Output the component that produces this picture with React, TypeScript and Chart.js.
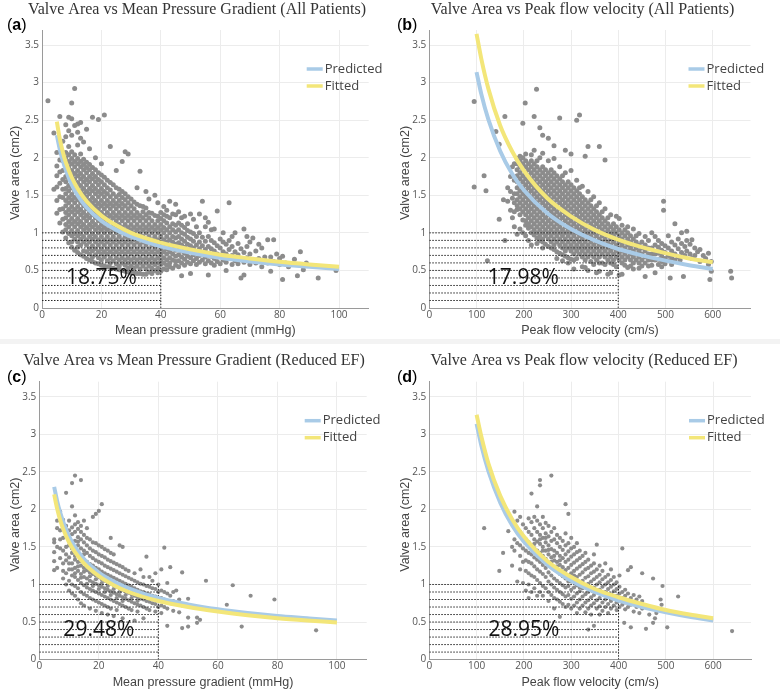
import React, { useEffect, useRef } from "react";
import { Chart, registerables } from "chart.js";
Chart.register(...registerables);
Chart.defaults.font.family = "'Open Sans', sans-serif";

// ---------- axis ticks ----------
const gradTicks = [0, 20, 40, 60, 80, 100];
const velTicks = [0, 100, 200, 300, 400, 500, 600];
const areaTicks = [0, 0.5, 1, 1.5, 2, 2.5, 3, 3.5];

// ---------- curves ----------
const gradCurveX = [5, 6, 7, 8, 10, 12, 15, 20, 25, 30, 40, 50, 60, 70, 80, 90, 100];
const gradPredictedY = [2.3, 2.11, 1.96, 1.84, 1.64, 1.5, 1.34, 1.16, 1.04, 0.95, 0.82, 0.735, 0.67, 0.62, 0.58, 0.55, 0.52];
const gradFittedAllY = [2.48, 2.25, 2.08, 1.94, 1.74, 1.59, 1.42, 1.23, 1.1, 1.0, 0.87, 0.78, 0.71, 0.66, 0.615, 0.58, 0.55];
const gradFittedRedY = [2.2, 2.01, 1.86, 1.74, 1.56, 1.43, 1.28, 1.11, 0.99, 0.9, 0.78, 0.7, 0.64, 0.59, 0.55, 0.52, 0.495];

const velCurveX = [100, 110, 125, 150, 175, 200, 250, 300, 350, 400, 450, 500, 550, 600];
const velPredictedY = [3.14, 2.85, 2.51, 2.09, 1.79, 1.57, 1.26, 1.05, 0.9, 0.785, 0.7, 0.63, 0.57, 0.52];
const velFittedAllY = [3.65, 3.32, 2.92, 2.43, 2.09, 1.83, 1.46, 1.22, 1.04, 0.91, 0.81, 0.73, 0.66, 0.61];
const velFittedRedY = [3.26, 2.97, 2.61, 2.18, 1.87, 1.64, 1.31, 1.1, 0.94, 0.83, 0.74, 0.66, 0.6, 0.55];

// ---------- dotted threshold box ----------
const dottedLevels = [0.1, 0.2, 0.3, 0.4, 0.5, 0.6, 0.7, 0.8, 0.9, 1.0];
const gradCutoff = 40;
const velCutoff = 400;

// ---------- labels ----------
const titles = [
  "Valve Area vs Mean Pressure Gradient (All Patients)",
  "Valve Area vs Peak flow velocity (All Patients)",
  "Valve Area vs Mean Pressure Gradient (Reduced EF)",
  "Valve Area vs Peak flow velocity (Reduced EF)",
];
const panelLetters = ["a", "b", "c", "d"];
const percentLabels = ["18.75%", "17.98%", "29.48%", "28.95%"];
const xTitles = ["Mean pressure gradient (mmHg)", "Peak flow velocity (cm/s)", "Mean pressure gradient (mmHg)", "Peak flow velocity (cm/s)"];
const yTitle = "Valve area (cm2)";
const legendNames = ["Predicted", "Fitted"];

// ---------- scatter data: [x, y values in hundredths] ----------
const scatterGradAll: [number, number[]][] = [
  [2, [276]], [4, [233, 158]],
  [5, [126, 143, 161, 176, 189, 207]],
  [6, [113, 131, 148, 166, 181, 197, 255]],
  [7, [101, 118, 132, 147, 158, 171, 183, 196, 206, 222]],
  [8, [93, 104, 111, 120, 127, 136, 143, 152, 159, 168, 175, 184, 191, 200, 207, 228, 244]],
  [9, [87, 99, 108, 115, 124, 131, 140, 147, 156, 163, 172, 179, 188, 195, 204, 215, 236, 254]],
  [10, [81, 88, 96, 103, 112, 119, 128, 135, 144, 151, 160, 167, 176, 183, 192, 199, 208, 230, 252, 273]],
  [11, [77, 92, 99, 108, 115, 124, 131, 140, 147, 156, 163, 172, 179, 188, 195, 204, 243, 292]],
  [12, [74, 81, 88, 96, 103, 112, 119, 128, 135, 144, 151, 160, 167, 176, 183, 192, 199, 217, 234, 245]],
  [13, [71, 84, 92, 99, 108, 115, 124, 131, 140, 147, 156, 163, 172, 179, 188, 195, 205, 226, 247]],
  [14, [69, 76, 88, 95, 104, 111, 120, 127, 136, 143, 152, 159, 168, 175, 184, 191, 198, 221]],
  [15, [66, 75, 84, 91, 100, 107, 116, 123, 132, 139, 148, 155, 164, 171, 180, 187, 194, 238]],
  [16, [64, 72, 79, 88, 95, 104, 111, 120, 127, 136, 143, 152, 159, 168, 175, 184, 191, 212]],
  [17, [62, 68, 76, 83, 92, 99, 108, 115, 124, 131, 140, 147, 156, 163, 172, 179, 187, 254]],
  [18, [60, 71, 79, 88, 95, 104, 111, 120, 127, 136, 143, 152, 159, 168, 175, 184, 200]],
  [19, [59, 67, 75, 84, 91, 100, 107, 116, 123, 132, 139, 148, 155, 164, 171, 180, 251]],
  [20, [57, 64, 72, 79, 88, 95, 104, 111, 120, 127, 136, 143, 152, 159, 168, 177, 192]],
  [21, [56, 68, 75, 84, 91, 100, 107, 116, 123, 132, 139, 148, 155, 164, 174, 257]],
  [22, [55, 63, 72, 79, 88, 95, 104, 111, 120, 127, 136, 143, 152, 160, 170]],
  [23, [54, 60, 67, 75, 84, 91, 100, 107, 116, 123, 132, 139, 148, 157, 167, 215]],
  [24, [53, 63, 72, 79, 88, 95, 104, 111, 120, 127, 136, 143, 152, 164]],
  [25, [52, 59, 67, 75, 84, 91, 100, 107, 116, 123, 132, 139, 148, 160, 183]],
  [26, [51, 56, 64, 72, 79, 88, 95, 104, 111, 120, 127, 136, 143, 151, 158]],
  [27, [50, 60, 67, 75, 84, 91, 100, 107, 116, 123, 132, 139, 147, 155, 195]],
  [28, [49, 57, 64, 72, 79, 88, 95, 104, 111, 120, 127, 136, 144, 152, 208]],
  [29, [48, 53, 60, 67, 75, 84, 91, 100, 107, 116, 123, 132, 140, 148, 205]],
  [30, [47, 56, 64, 72, 79, 88, 95, 104, 111, 120, 127, 136, 145]],
  [31, [47, 53, 60, 67, 75, 84, 91, 100, 107, 116, 123, 132, 141]],
  [32, [46, 56, 64, 72, 79, 88, 95, 104, 111, 120, 127, 138, 160]],
  [33, [46, 52, 60, 67, 75, 84, 91, 100, 107, 116, 123, 136, 182]],
  [34, [45, 56, 64, 72, 79, 88, 95, 104, 111, 120, 128, 135]],
  [35, [45, 52, 60, 67, 75, 84, 91, 100, 107, 116, 124, 133, 155]],
  [36, [48, 56, 64, 72, 79, 88, 95, 104, 111, 120, 127, 145]],
  [37, [46, 53, 60, 67, 75, 84, 91, 100, 107, 116, 126]],
  [38, [50, 58, 64, 72, 79, 88, 95, 104, 111, 123, 150]],
  [39, [47, 53, 60, 67, 75, 84, 91, 100, 107, 116, 122, 140]],
  [40, [49, 58, 64, 72, 79, 88, 95, 104, 111, 119, 127]],
  [41, [52, 60, 67, 75, 84, 91, 100, 107, 116, 124, 135]],
  [42, [51, 57, 64, 72, 79, 88, 95, 104, 113, 122, 130]],
  [43, [55, 60, 67, 75, 84, 91, 100, 108, 120, 142]],
  [44, [53, 64, 72, 79, 88, 95, 104, 112, 125]],
  [45, [57, 62, 69, 77, 85, 93, 101, 110, 124, 138]],
  [46, [55, 63, 71, 79, 87, 95, 104, 113, 128]],
  [47, [43, 60, 68, 76, 84, 92, 100, 110, 120]],
  [48, [57, 65, 73, 81, 89, 98, 107, 122]],
  [49, [61, 69, 77, 85, 94, 103, 112]],
  [50, [46, 59, 67, 75, 83, 92, 101, 125]],
  [51, [63, 71, 80, 89, 99, 118]],
  [52, [58, 66, 75, 84, 95, 108]],
  [53, [61, 70, 79, 88, 100, 125]],
  [54, [64, 73, 83, 94, 142]],
  [55, [59, 68, 78, 89, 108, 120]],
  [56, [44, 63, 72, 82, 95, 114]],
  [57, [60, 69, 79, 90, 104]],
  [58, [57, 66, 76, 87, 105]],
  [59, [62, 72, 83, 129]],
  [60, [59, 69, 80, 92]],
  [61, [64, 75, 88, 100]],
  [62, [50, 61, 72, 85]],
  [63, [66, 78, 90, 140]],
  [64, [58, 70, 82, 95]],
  [65, [63, 75, 100]],
  [66, [59, 71, 86]],
  [67, [40, 66, 79]],
  [68, [44, 61, 74, 105]],
  [69, [67, 82, 95]],
  [70, [58, 72, 88]],
  [71, [63, 93]], [72, [60, 76]], [73, [66, 85]], [74, [55, 80]], [75, [68]],
  [76, [60, 91]], [77, [49, 68]], [78, [62, 91]], [79, [72]], [80, [58, 66]],
  [81, [69, 38]], [82, [60]], [83, [55]], [85, [65]], [86, [43]], [87, [75]],
  [88, [51]], [89, [60]], [93, [40]], [99, [50]],
];

const scatterVelAll: [number, number[]][] = [
  [95, [275, 161]], [116, [176]], [120, [156]], [123, [63]], [141, [235]],
  [148, [218, 118]], [157, [144]], [160, [255, 90]], [166, [160, 142]],
  [172, [175, 130, 155]], [176, [188, 146, 120]],
  [180, [192, 170, 152, 140, 128, 108]],
  [186, [131, 136, 144, 152, 160, 168, 176, 184, 192, 199, 98]],
  [192, [124, 132, 140, 148, 156, 164, 172, 180, 188, 196, 202, 105]],
  [198, [117, 128, 136, 144, 152, 160, 168, 176, 184, 192, 200, 246, 100]],
  [203, [273]],
  [204, [110, 116, 124, 132, 140, 148, 156, 164, 172, 180, 188, 196, 205, 96]],
  [210, [106, 112, 120, 128, 136, 144, 152, 160, 168, 176, 184, 192, 90]],
  [216, [100, 108, 116, 124, 132, 140, 148, 156, 164, 172, 180, 188, 196, 204, 84]],
  [222, [97, 104, 112, 120, 128, 136, 144, 152, 160, 168, 176, 184, 192, 210, 255]],
  [227, [291]],
  [228, [93, 100, 108, 116, 124, 132, 140, 148, 156, 164, 172, 180, 188, 196, 86]],
  [234, [90, 96, 104, 112, 120, 128, 136, 144, 152, 160, 168, 176, 184, 200, 240]],
  [240, [88, 92, 100, 108, 116, 124, 132, 140, 148, 156, 164, 172, 180, 188, 206, 230, 80]],
  [246, [85, 96, 104, 112, 120, 128, 136, 144, 152, 160, 168, 176, 184]],
  [252, [82, 92, 100, 108, 116, 124, 132, 140, 148, 156, 164, 172, 180, 196, 226]],
  [258, [80, 88, 96, 104, 112, 120, 128, 136, 144, 152, 160, 168, 176, 184]],
  [264, [78, 84, 92, 100, 108, 116, 124, 132, 140, 148, 156, 164, 172, 180, 199, 216]],
  [270, [66, 75, 88, 96, 104, 112, 120, 128, 136, 144, 152, 160, 168, 176]],
  [276, [73, 84, 92, 100, 108, 116, 124, 132, 140, 148, 156, 164, 172, 188, 253]],
  [282, [63, 71, 80, 88, 96, 104, 112, 120, 128, 136, 144, 152, 160, 168, 176]],
  [288, [69, 76, 84, 92, 100, 108, 116, 124, 132, 140, 148, 156, 164, 180, 210]],
  [294, [60, 67, 80, 88, 96, 104, 112, 120, 128, 136, 144, 152, 160, 168]],
  [300, [65, 76, 84, 92, 100, 108, 116, 124, 132, 140, 148, 156, 164, 183, 205]],
  [306, [52, 64, 72, 80, 88, 96, 104, 112, 120, 128, 136, 144, 152, 160]],
  [312, [66, 76, 84, 92, 100, 108, 116, 124, 132, 140, 148, 156, 170, 250]],
  [318, [72, 80, 88, 96, 104, 112, 120, 128, 136, 144, 152, 160, 257]],
  [324, [55, 68, 76, 84, 92, 100, 108, 116, 124, 132, 140, 148, 162]],
  [330, [54, 64, 72, 80, 88, 96, 104, 112, 120, 128, 136, 144, 202]],
  [336, [50, 68, 76, 84, 92, 100, 108, 116, 124, 132, 140, 155, 215]],
  [342, [62, 72, 80, 88, 96, 104, 112, 120, 128, 136, 144]],
  [348, [58, 68, 76, 84, 92, 100, 108, 116, 124, 132, 148]],
  [354, [47, 64, 72, 80, 88, 96, 104, 112, 120, 128, 136]],
  [360, [49, 60, 68, 76, 84, 92, 100, 108, 116, 124, 140, 215]],
  [366, [60, 72, 80, 88, 96, 104, 112, 120, 128]],
  [372, [58, 68, 76, 84, 92, 100, 108, 116, 132, 197]],
  [378, [45, 64, 72, 80, 88, 96, 104, 112, 120]],
  [384, [47, 60, 68, 76, 84, 92, 100, 108, 124]],
  [390, [58, 64, 72, 80, 88, 96, 104, 112]],
  [396, [55, 68, 76, 84, 92, 100, 108, 122]],
  [402, [44, 64, 72, 80, 88, 96, 104, 119]],
  [408, [45, 60, 68, 76, 84, 92, 100, 110]],
  [414, [57, 64, 72, 80, 88, 96, 104]],
  [420, [54, 68, 76, 84, 92, 100, 108]],
  [426, [56, 64, 72, 80, 88, 96]],
  [432, [52, 60, 68, 76, 84, 92, 105]],
  [438, [64, 72, 80, 88, 96]],
  [444, [53, 60, 68, 76, 84, 99]],
  [450, [56, 64, 72, 80, 88]],
  [457, [42, 60, 68, 76, 84, 95]],
  [464, [56, 64, 72, 80, 90]],
  [471, [57, 64, 72, 80, 100]],
  [478, [47, 64, 72, 84, 95]],
  [485, [58, 65, 73, 81, 90]],
  [492, [55, 62, 69, 77, 86]],
  [496, [142, 130]],
  [499, [59, 66, 74, 83]],
  [506, [63, 70, 80, 96]],
  [510, [40]],
  [513, [58, 67, 76, 88]],
  [520, [64, 72, 84, 112]],
  [527, [68, 79, 92]], [531, [64]], [534, [74, 86, 100]], [538, [42]],
  [541, [70, 82]], [545, [76, 90, 102]], [552, [72, 85]], [556, [66, 91]],
  [562, [70, 80]], [568, [75]], [573, [62, 78]], [580, [70]], [585, [66]],
  [591, [58, 73]], [594, [38]], [597, [49, 62]], [638, [49]], [640, [40]],
];

const scatterGradRed: [number, number[]][] = [
  [5, [143, 156, 131, 119, 160]], [6, [175, 185, 122, 150]], [7, [172, 160, 135, 197, 148]],
  [8, [108, 128, 145, 162, 180, 186, 118]],
  [9, [100, 115, 132, 150, 168, 178, 222, 140]],
  [10, [92, 105, 120, 136, 152, 163, 172, 185, 128]],
  [11, [88, 100, 112, 128, 142, 155, 167, 176, 204, 235, 120, 148]],
  [12, [85, 98, 110, 122, 133, 145, 158, 170, 180, 192, 245, 115, 138]],
  [13, [80, 95, 106, 118, 130, 140, 152, 163, 174, 183, 124, 157]],
  [14, [75, 90, 102, 114, 125, 136, 148, 160, 170, 178, 239, 109, 131]],
  [15, [72, 87, 99, 110, 122, 133, 145, 156, 166, 185, 117, 140]],
  [16, [85, 96, 108, 119, 130, 142, 152, 162, 175, 101, 125]],
  [17, [68, 82, 94, 105, 116, 127, 138, 148, 160, 111]],
  [18, [80, 92, 103, 114, 125, 135, 145, 156, 190, 98, 119]],
  [19, [65, 78, 90, 101, 112, 122, 132, 143, 155, 194, 107]],
  [20, [76, 88, 99, 110, 120, 130, 140, 152, 198, 94, 115]],
  [21, [62, 74, 86, 97, 107, 117, 128, 138, 150, 207, 102]],
  [22, [72, 84, 95, 105, 115, 125, 136, 147, 90]],
  [23, [60, 70, 82, 93, 103, 113, 123, 133, 145, 98]],
  [24, [68, 80, 91, 101, 111, 121, 131, 142, 162, 86]],
  [25, [58, 78, 89, 99, 109, 119, 129, 140, 94]],
  [26, [66, 76, 87, 97, 107, 117, 127, 82]],
  [27, [74, 85, 95, 105, 115, 125, 152, 90]],
  [28, [55, 72, 83, 93, 103, 113, 123, 150, 78]],
  [29, [70, 81, 91, 101, 111, 120, 86]],
  [30, [68, 79, 89, 99, 109, 118]],
  [31, [66, 77, 87, 97, 107, 82]],
  [32, [52, 75, 85, 95, 105, 115]],
  [33, [64, 73, 83, 93, 103, 78]],
  [34, [72, 81, 91, 101, 120]],
  [35, [55, 70, 80, 90, 100, 110]],
  [36, [68, 78, 88, 98, 137]],
  [37, [66, 77, 87, 97, 110]],
  [38, [75, 85, 95, 105]],
  [39, [64, 74, 84, 94, 115]],
  [40, [70, 80, 90, 100]],
  [41, [62, 72, 82, 92, 120]],
  [42, [70, 80, 90, 149]],
  [43, [45, 68, 78, 88, 102]],
  [44, [75, 85, 123]], [45, [65, 78, 90]], [46, [74, 92]], [47, [63, 80]],
  [48, [42, 72, 116]], [50, [44, 56, 81]], [53, [49, 56]], [54, [53]],
  [56, [105]], [63, [73]], [65, [99]], [68, [44]], [71, [85]], [79, [80]], [93, [39]],
];

const scatterVelRed: [number, number[]][] = [
  [116, [175]], [148, [118]], [156, [142]], [167, [171]], [175, [150, 125]],
  [180, [197, 160, 145]], [186, [185, 155, 104]], [192, [190, 170, 152, 138, 120]],
  [198, [180, 162, 148, 130, 102]], [204, [175, 160, 145, 132, 118, 92]],
  [210, [188, 170, 156, 142, 130, 115, 82, 100]],
  [216, [183, 166, 152, 140, 128, 112, 90, 221]],
  [222, [190, 175, 160, 148, 136, 124, 110, 95, 154]],
  [228, [185, 170, 157, 145, 133, 120, 106, 85, 204, 139]],
  [234, [180, 166, 154, 142, 130, 117, 102, 90, 232, 239, 160]],
  [240, [190, 175, 162, 150, 138, 126, 114, 98, 85, 145]],
  [246, [182, 168, 156, 145, 134, 122, 110, 95, 162]],
  [252, [178, 164, 152, 140, 128, 116, 104, 90, 78, 146]],
  [258, [170, 158, 147, 136, 124, 112, 100, 86, 245, 130]],
  [264, [175, 160, 145, 132, 120, 108, 96, 82, 68, 138]],
  [270, [166, 155, 142, 130, 118, 105, 93, 80, 124]],
  [276, [162, 150, 138, 126, 114, 102, 90, 77, 57, 132]],
  [282, [158, 146, 135, 123, 111, 99, 87, 74, 117]],
  [288, [168, 152, 140, 130, 119, 108, 96, 84, 70, 207]],
  [294, [155, 144, 133, 122, 110, 98, 86, 73, 194, 104]],
  [300, [162, 148, 137, 126, 115, 104, 93, 81, 68]],
  [306, [150, 140, 129, 118, 107, 96, 84, 72, 112]],
  [312, [155, 143, 132, 121, 110, 99, 88, 76, 62]],
  [318, [145, 135, 124, 113, 102, 91, 80, 68, 96]],
  [324, [138, 127, 116, 105, 95, 84, 72]],
  [330, [142, 130, 120, 109, 98, 87, 76, 63]],
  [336, [133, 122, 111, 101, 90, 79, 68, 40]],
  [342, [125, 115, 104, 94, 83, 72, 60]],
  [348, [140, 128, 117, 107, 96, 86, 75, 45]],
  [354, [153, 120, 110, 100, 90, 79, 68]],
  [360, [125, 113, 103, 93, 82, 71, 60]],
  [366, [118, 107, 97, 87, 76, 65]],
  [372, [128, 110, 100, 90, 80, 70]],
  [378, [113, 103, 94, 84, 74, 62]],
  [384, [120, 106, 97, 87, 78, 68]],
  [390, [110, 100, 91, 82, 72]],
  [396, [103, 94, 85, 76, 66]],
  [402, [112, 97, 88, 79, 70]],
  [408, [90, 82, 73, 148]], [412, [49]], [414, [93, 85, 76, 67]],
  [420, [88, 79, 70, 119]], [426, [82, 73, 43, 123]], [432, [86, 76, 64]],
  [438, [80, 70]], [444, [84, 62]], [450, [78, 68, 115]], [458, [41, 72]],
  [465, [60]], [473, [108, 49]], [477, [55]], [480, [62]], [489, [80]],
  [491, [73]], [493, [98]], [503, [43]], [526, [84]], [640, [38]],
];

// ---------- panel layout ----------
const BLUE = "#a9cbe7";
const YELLOW = "#f3e679";
const SANS = "'Liberation Sans', Arial, sans-serif";

type PanelCfg = {
  idx: number; left: number; top: number; width: number; height: number;
  area: { l: number; r: number; t: number; b: number };
  xMax: number; xTicks: number[]; curveX: number[]; predicted: number[]; fitted: number[];
  cutoff: number; scatter: [number, number[]][]; titleX: number; percentX: number; dot: number;
};

const panels: PanelCfg[] = [
  { idx: 0, left: 0, top: 0, width: 390, height: 340, area: { l: 42, r: 368.7, t: 30, b: 308 }, xMax: 110, xTicks: gradTicks,
    curveX: gradCurveX, predicted: gradPredictedY, fitted: gradFittedAllY, cutoff: gradCutoff, scatter: scatterGradAll, titleX: 197, percentX: 20, dot: 2.5 },
  { idx: 1, left: 390, top: 0, width: 390, height: 340, area: { l: 39.3, r: 360.5, t: 30, b: 308 }, xMax: 680, xTicks: velTicks,
    curveX: velCurveX, predicted: velPredictedY, fitted: velFittedAllY, cutoff: velCutoff, scatter: scatterVelAll, titleX: 192.5, percentX: 199, dot: 2.5 },
  { idx: 2, left: 0, top: 344, width: 390, height: 356, area: { l: 39.3, r: 366.7, t: 37.7, b: 315.6 }, xMax: 110, xTicks: gradTicks,
    curveX: gradCurveX, predicted: gradPredictedY, fitted: gradFittedRedY, cutoff: gradCutoff, scatter: scatterGradRed, titleX: 194, percentX: 20, dot: 2.1 },
  { idx: 3, left: 390, top: 344, width: 390, height: 356, area: { l: 39.3, r: 361, t: 37.7, b: 315.6 }, xMax: 680, xTicks: velTicks,
    curveX: velCurveX, predicted: velPredictedY, fitted: velFittedRedY, cutoff: velCutoff, scatter: scatterVelRed, titleX: 194, percentX: 200, dot: 2.1 },
];

const toPoints = (cols: [number, number[]][]) =>
  cols.flatMap(([x, ys]) => ys.map((y) => ({ x, y: y / 100 })));

function makeTextPlugin(p: PanelCfg) {
  return {
    id: "panelText",
    afterDraw(chart: any) {
      const { ctx, chartArea: a, scales } = chart;
      ctx.save();
      // title
      ctx.fillStyle = "#333";
      ctx.font = "16px 'Liberation Serif', 'Times New Roman', serif";
      ctx.textAlign = "center";
      ctx.textBaseline = "middle";
      ctx.fillText(titles[p.idx], p.titleX, a.top - 20.5);
      // panel letter
      ctx.fillStyle = "#000";
      ctx.textAlign = "left";
      let lx = 7;
      const ly = a.top - 4;
      ctx.font = `16px ${SANS}`;
      ctx.fillText("(", lx, ly);
      lx += ctx.measureText("(").width;
      ctx.font = `bold 16px ${SANS}`;
      ctx.fillText(panelLetters[p.idx], lx, ly);
      lx += ctx.measureText(panelLetters[p.idx]).width;
      ctx.font = `16px ${SANS}`;
      ctx.fillText(")", lx, ly);
      // axis titles
      ctx.fillStyle = "#444";
      ctx.font = `12.5px ${SANS}`;
      ctx.textAlign = "center";
      ctx.fillText(xTitles[p.idx], (a.left + a.right) / 2, a.bottom + 23);
      ctx.save();
      ctx.translate(15.5, (a.top + a.bottom) / 2 + 4);
      ctx.rotate(-Math.PI / 2);
      ctx.fillText(yTitle, 0, 0);
      ctx.restore();
      // legend
      const colors = [BLUE, YELLOW];
      ctx.font = "13px 'Open Sans', sans-serif";
      ctx.textAlign = "left";
      legendNames.forEach((name, i) => {
        const yy = a.top + 39 + i * 17;
        ctx.strokeStyle = colors[i];
        ctx.lineWidth = 3.5;
        ctx.beginPath();
        ctx.moveTo(a.right - 62, yy);
        ctx.lineTo(a.right - 46, yy);
        ctx.stroke();
        ctx.fillStyle = "#444";
        ctx.fillText(name, a.right - 44, yy);
      });
      // percentage
      ctx.fillStyle = "#111";
      ctx.font = "21px 'Open Sans', sans-serif";
      ctx.textAlign = "center";
      ctx.fillText(percentLabels[p.idx], scales.x.getPixelForValue(p.percentX), scales.y.getPixelForValue(0.4));
      ctx.restore();
    },
  };
}

function Panel({ p }: { p: PanelCfg }) {
  const ref = useRef<HTMLCanvasElement>(null);
  useEffect(() => {
    const canvas = ref.current!;
    const a = p.area;
    const lineDs = (data: any[], color: string, width: number, dash?: number[]) => ({
      data, showLine: true, pointRadius: 0, pointHoverRadius: 0, borderColor: color, borderWidth: width,
      borderDash: dash || [], fill: false, cubicInterpolationMode: "monotone",
    });
    const datasets: any[] = [];
    datasets.push(lineDs(p.curveX.map((x, i) => ({ x, y: p.fitted[i] })), YELLOW, 4));
    datasets.push(lineDs(p.curveX.map((x, i) => ({ x, y: p.predicted[i] })), BLUE, 4));
    dottedLevels.forEach((lv) => datasets.push(lineDs([{ x: 0, y: lv }, { x: p.cutoff, y: lv }], "#222", 1, [1.5, 1.5])));
    datasets.push(lineDs([{ x: p.cutoff, y: 0 }, { x: p.cutoff, y: dottedLevels[dottedLevels.length - 1] }], "#222", 1, [1.5, 1.5]));
    datasets.push({
      data: toPoints(p.scatter), showLine: false, pointRadius: p.dot, pointHoverRadius: 0,
      pointBackgroundColor: "#8c8c8c", pointBorderWidth: 0, pointBorderColor: "rgba(0,0,0,0)",
    });
    const chart = new Chart(canvas, {
      type: "scatter",
      data: { datasets },
      options: {
        animation: false,
        responsive: false,
        devicePixelRatio: 1,
        events: [],
        layout: { padding: { left: 0, top: a.t, right: p.width - a.r, bottom: 0 } },
        plugins: { legend: { display: false }, tooltip: { enabled: false }, title: { display: false } },
        scales: {
          x: {
            type: "linear", min: 0, max: p.xMax,
            afterBuildTicks: (s: any) => { s.ticks = p.xTicks.map((v) => ({ value: v })); },
            afterFit: (s: any) => { s.height = p.height - a.b; },
            grid: { color: "#ececec", drawTicks: false, lineWidth: 1 },
            border: { display: true, color: "#9a9a9a", width: 1 },
            ticks: { padding: 1, color: "#555", font: { size: 10 }, maxRotation: 0, autoSkip: false, callback: (v: any) => String(v) },
          },
          y: {
            type: "linear", min: 0, max: 3.7,
            afterBuildTicks: (s: any) => { s.ticks = areaTicks.map((v) => ({ value: v })); },
            afterFit: (s: any) => { s.width = a.l; },
            grid: { color: "#ececec", drawTicks: false, lineWidth: 1 },
            border: { display: true, color: "#9a9a9a", width: 1 },
            ticks: { padding: 3, color: "#555", font: { size: 10 }, autoSkip: false, callback: (v: any) => String(v) },
          },
        },
      } as any,
      plugins: [makeTextPlugin(p)],
    });
    return () => chart.destroy();
  }, []);
  return (
    <canvas
      ref={ref}
      width={p.width}
      height={p.height}
      style={{ position: "absolute", left: p.left, top: p.top, width: p.width, height: p.height, display: "block" }}
    />
  );
}

export default function App() {
  return (
    <div style={{ position: "absolute", left: 0, top: 0, width: 780, height: 700, background: "#fff", overflow: "hidden" }}>
      <div style={{ position: "absolute", left: 0, top: 339, width: 780, height: 5, background: "#f3f3f3" }} />
      {panels.map((p) => (
        <Panel key={p.idx} p={p} />
      ))}
    </div>
  );
}
